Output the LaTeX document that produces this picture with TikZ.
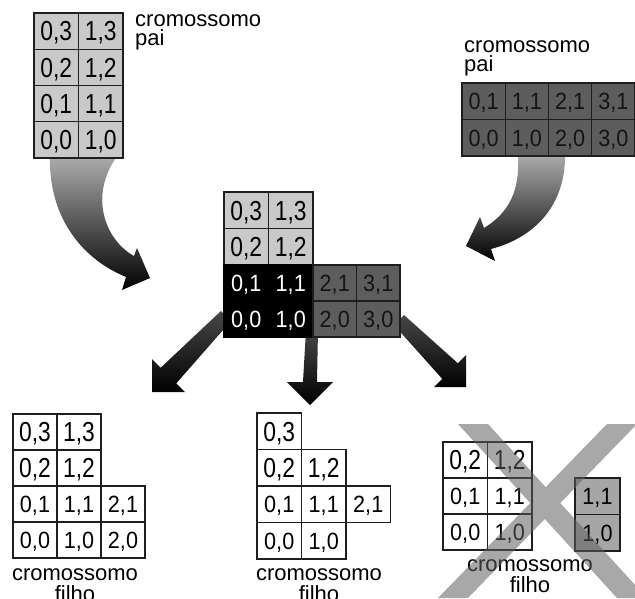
\documentclass[tikz,border=0pt]{standalone}
\usepackage{fontspec}
\setmainfont{Liberation Sans}
\newfontfamily\cellfont[FakeStretch=0.83]{Liberation Sans}
\newfontfamily\smallcellfont[FakeStretch=0.92]{Liberation Sans}
\newfontfamily\lblfont{Liberation Sans}
\definecolor{lightg}{HTML}{C9C9C9}
\definecolor{darkg}{HTML}{5D5D5D}
\definecolor{smallg}{HTML}{A6A6A6}
\definecolor{xcol}{HTML}{5E5E5E}
\definecolor{edgec}{HTML}{1E1E1E}
\tikzset{
  cellbox/.style={draw=edgec, line width=1.3pt, inner sep=0pt, outer sep=0pt, anchor=north west},
  bigtxt/.style={font=\cellfont\fontsize{27.5}{27.5}\selectfont, text height=19.7pt, text depth=0pt},
  smalltxt/.style={font=\smallcellfont\fontsize{23.5}{23.5}\selectfont, text height=16.8pt, text depth=0pt},
  lightcell/.style={cellbox, fill=lightg},
  darkcell/.style={cellbox, fill=darkg, text=black!92},
  blackcell/.style={cellbox, fill=black, draw=black, text=white},
  whitecell/.style={cellbox, fill=white},
  greycell/.style={cellbox, fill=smallg},
  lbl/.style={font=\lblfont\fontsize{22}{22}\selectfont, inner sep=0pt},
  curvearrow/.style={shading=axis, top color=black!32, middle color=black!68, bottom color=black},
  blockarrow/.style={shading=axis, top color=black!72, bottom color=black},
}
\begin{document}
\begin{tikzpicture}[x=1pt, y=-1pt]
\useasboundingbox (0,0) rectangle (635,598);

% curved arrows (drawn below the grids)
\shade[curvearrow] (50,155) .. controls (48,215) and (80,258) .. (126,277)
  -- (122,290) -- (150,278) -- (137,248) -- (134,256)
  .. controls (105,240) and (88,195) .. (118,155) -- cycle;
\shade[curvearrow] (565,154) .. controls (566,200) and (540,236) .. (491,249)
  -- (495,261) -- (466,246) -- (480,217) -- (484,228)
  .. controls (510,212) and (520,190) .. (518,154) -- cycle;

% straight block arrows from the middle grid
\shade[blockarrow] (221,311) -- (160.7,367.7) -- (152,359) -- (152,392)
  -- (185,392) -- (176.3,383.3) -- (231,321) -- cycle;
\shade[blockarrow] (306,330) -- (303,382) -- (287,382) -- (310,405)
  -- (333,382) -- (317,382) -- (318,330) -- cycle;
\shade[blockarrow] (404,315) -- (457.8,363.2) -- (466,355) -- (466,387)
  -- (434,387) -- (442.2,378.8) -- (394,325) -- cycle;

% ---------- top-left parent chromosome ----------
\begin{scope}[every node/.append style={lightcell, bigtxt, minimum width=44.5pt, minimum height=36.25pt}]
\node (tl03) at (34,13) {0,3};     \node (tl13) at (78.5,13) {1,3};
\node (tl02) at (34,49.25) {0,2};  \node (tl12) at (78.5,49.25) {1,2};
\node (tl01) at (34,85.5) {0,1};   \node (tl11) at (78.5,85.5) {1,1};
\node (tl00) at (34,121.75) {0,0}; \node (tl10) at (78.5,121.75) {1,0};
\end{scope}
\node[lbl, anchor=base west] (tlla) at (135,26) {cromossomo};
\node[lbl, anchor=base west] (tllb) at (135,45.5) {pai};

% ---------- top-right parent chromosome ----------
\begin{scope}[every node/.append style={darkcell, smalltxt, minimum width=43.25pt, minimum height=36.5pt}]
\node (tr01) at (462,83) {0,1};    \node (tr11) at (505.25,83) {1,1};
\node (tr21) at (548.5,83) {2,1};  \node (tr31) at (591.75,83) {3,1};
\node (tr00) at (462,119.5) {0,0}; \node (tr10) at (505.25,119.5) {1,0};
\node (tr20) at (548.5,119.5) {2,0}; \node (tr30) at (591.75,119.5) {3,0};
\end{scope}
\node[lbl, anchor=base west] (trla) at (464,52) {cromossomo};
\node[lbl, anchor=base west] (trlb) at (464,71) {pai};

% ---------- middle combined chromosome ----------
\begin{scope}[every node/.append style={minimum width=44.5pt, minimum height=36.5pt}]
\node[lightcell, bigtxt] (m03) at (224,192) {0,3};   \node[lightcell, bigtxt] (m13) at (268.5,192) {1,3};
\node[lightcell, bigtxt] (m02) at (224,228.5) {0,2}; \node[lightcell, bigtxt] (m12) at (268.5,228.5) {1,2};
\node[blackcell, smalltxt] (m01) at (224,265) {0,1}; \node[blackcell, smalltxt] (m11) at (268.5,265) {1,1};
\node[blackcell, smalltxt] (m00) at (224,301) {0,0}; \node[blackcell, smalltxt] (m10) at (268.5,301) {1,0};
\end{scope}
\begin{scope}[every node/.append style={darkcell, smalltxt, minimum width=43.5pt, minimum height=36pt}]
\node (m21) at (313,265) {2,1};   \node (m31) at (356.5,265) {3,1};
\node (m20) at (313,301) {2,0};   \node (m30) at (356.5,301) {3,0};
\end{scope}

% ---------- bottom-left child ----------
\begin{scope}[every node/.append style={whitecell, minimum width=44pt, minimum height=36pt}]
\node[bigtxt] (bl03) at (13,414) {0,3};   \node[bigtxt] (bl13) at (57,414) {1,3};
\node[bigtxt] (bl02) at (13,450) {0,2};   \node[bigtxt] (bl12) at (57,450) {1,2};
\node[smalltxt] (bl01) at (13,486) {0,1}; \node[smalltxt] (bl11) at (57,486) {1,1}; \node[smalltxt] (bl21) at (101,486) {2,1};
\node[smalltxt] (bl00) at (13,522) {0,0}; \node[smalltxt] (bl10) at (57,522) {1,0}; \node[smalltxt] (bl20) at (101,522) {2,0};
\end{scope}
\node[lbl, anchor=base] (blla) at (75,580) {cromossomo};
\node[lbl, anchor=base] (bllb) at (75,601) {filho};

% ---------- bottom-middle child ----------
\begin{scope}[every node/.append style={whitecell, minimum width=44.5pt, minimum height=36.5pt}]
\node[bigtxt] (bm03) at (257,413) {0,3};
\node[bigtxt] (bm02) at (257,449.5) {0,2};   \node[bigtxt] (bm12) at (301.5,449.5) {1,2};
\node[smalltxt] (bm01) at (257,486) {0,1};   \node[smalltxt] (bm11) at (301.5,486) {1,1}; \node[smalltxt] (bm21) at (346,486) {2,1};
\node[smalltxt] (bm00) at (257,522.5) {0,0}; \node[smalltxt] (bm10) at (301.5,522.5) {1,0};
\end{scope}
\node[lbl, anchor=base] (bmla) at (319,580) {cromossomo};
\node[lbl, anchor=base] (bmlb) at (319,601) {filho};

% ---------- bottom-right (rejected) child ----------
\begin{scope}[every node/.append style={whitecell, minimum width=44.5pt, minimum height=36pt}]
\node[bigtxt] (br02) at (443,442) {0,2};   \node[bigtxt] (br12) at (487.5,442) {1,2};
\node[smalltxt] (br01) at (443,478) {0,1}; \node[smalltxt] (br11) at (487.5,478) {1,1};
\node[smalltxt] (br00) at (443,514) {0,0}; \node[smalltxt] (br10) at (487.5,514) {1,0};
\end{scope}
\begin{scope}[every node/.append style={greycell, smalltxt, minimum width=45pt, minimum height=36.5pt}]
\node (sg11) at (575,478) {1,1};
\node (sg10) at (575,514.5) {1,0};
\end{scope}
\node[lbl, anchor=base] (brla) at (530,571) {cromossomo};
\node[lbl, anchor=base] (brlb) at (530,592) {filho};

% ---------- the big cross ----------
\fill[xcol, opacity=0.54] (458,424) -- (488,424) -- (647,598) -- (617,598) -- cycle
  (607,424) -- (637,424) -- (468,598) -- (438,598) -- cycle;
\end{tikzpicture}
\end{document}
